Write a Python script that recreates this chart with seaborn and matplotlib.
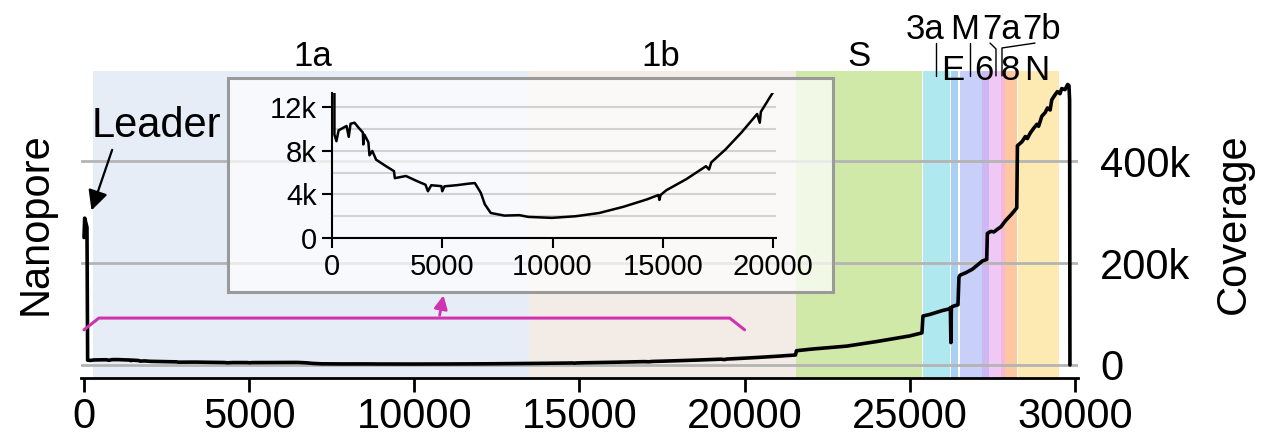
import matplotlib
matplotlib.use("Agg")
import matplotlib.pyplot as plt
import seaborn as sns
from matplotlib.patches import Rectangle

# genome positions and nanopore coverage
cov_pos = [0, 20, 90, 110, 200, 300, 660, 760, 840, 1020, 1200, 1400, 1420, 1470,
           1650, 1700, 1830, 2000, 2450, 2810, 2850, 3350, 3890, 4240, 4350, 4500,
           4960, 5000, 5100, 5680, 6210, 6480, 6750, 6930, 7200, 7820, 8500, 8900,
           9970, 11050, 12120, 13200, 14270, 14800, 14850, 14900, 15170, 16060,
           16960, 17100, 17200, 17850, 18570, 19280, 19400, 19450, 20000, 20500,
           21000, 21540, 21570, 22000, 23090, 24000, 25000, 25370, 25400, 25600,
           25800, 26000, 26200, 26230, 26245, 26260, 26300, 26460, 26490, 26520,
           26700, 26900, 27050, 27200, 27330, 27350, 27450, 27550, 27650, 27760,
           27900, 28100, 28240, 28260, 28400, 28500, 28560, 28650, 28750, 28850,
           28900, 29000, 29100, 29170, 29250, 29300, 29400, 29470, 29550, 29600,
           29700, 29780, 29820, 29840, 29850]
cov_val = [250000, 288000, 270000, 9500, 8900, 9900, 10300, 9300, 10500, 10600,
           10150, 9700, 8600, 9500, 8800, 7600, 8000, 7200, 6600, 6150, 5500, 5700,
           5200, 4900, 4300, 4850, 4770, 4300, 4750, 4860, 5000, 5050, 4150, 3100,
           2300, 2060, 2100, 1940, 1850, 2000, 2300, 2860, 3540, 3950, 3500, 3950,
           4400, 5400, 6600, 6300, 6950, 8150, 9700, 11400, 10600, 11600, 13400,
           15200, 17200, 19600, 28000, 31000, 37000, 46000, 57000, 63000, 96000,
           99000, 103000, 107000, 110000, 112000, 44000, 113000, 115000, 118000,
           172000, 176000, 181000, 188000, 196000, 204000, 207000, 258000, 262000,
           261000, 266000, 271000, 283000, 297000, 308000, 430000, 438000, 448000,
           444000, 455000, 464000, 472000, 468000, 488000, 495000, 504000, 500000,
           520000, 530000, 536000, 532000, 542000, 540000, 550000, 548000, 520000, 0]

gene_names = ["1a", "1b", "S", "3a", "E", "M", "6", "7a", "7b", "8", "N"]
gene_start = [266, 13468, 21563, 25393, 26245, 26523, 27202, 27394, 27756, 27894, 28274]
gene_end = [13483, 21555, 25384, 26220, 26472, 27191, 27387, 27759, 27887, 28259, 29533]
gene_colors = ["#e6edf6", "#f3ece6", "#d0e8a8", "#b0e8f0", "#a8d0f2", "#c8d0fa",
               "#ceb8f2", "#f0c8f5", "#f5b8d8", "#fdc8a0", "#fde9b2"]

# label placement (x in genome coordinates, row: 0 = big, 1 = top, 2 = lower)
label_x = [6940, 17450, 23450, 25461, 26309, 26672, 27248, 27793, 29004, 28035, 28853]
label_row = [0, 0, 0, 1, 2, 1, 2, 1, 1, 2, 2]

main_yticks = [0, 200000, 400000]
main_ylabels = ["0", "200k", "400k"]
main_xticks = [0, 5000, 10000, 15000, 20000, 25000, 30000]
inset_yticks = [0, 4000, 8000, 12000]
inset_ylabels = ["0", "4k", "8k", "12k"]
inset_xticks = [0, 5000, 10000, 15000, 20000]

bracket_x = [0, 450, 19550, 20000]
bracket_y = [69000, 92000, 92000, 69000]

sns.set_theme(style="white")
plt.rcParams["font.family"] = ["Liberation Sans", "DejaVu Sans"]
plt.rcParams["text.color"] = "black"
plt.rcParams["xtick.color"] = "black"
plt.rcParams["ytick.color"] = "black"
plt.rcParams["axes.labelcolor"] = "black"

W, H = 1262, 436
fig = plt.figure(figsize=(W / 100, H / 100), dpi=100)
ax = fig.add_axes([81 / W, 1 - 378 / H, 997 / W, 307 / H])

for s, e, c in zip(gene_start, gene_end, gene_colors):
    ax.axvspan(s, e, color=c, lw=0, zorder=0)

ax.set_xlim(-91, 30094)
ax.set_ylim(-25500, 576500)
ax.set_axisbelow("line")
ax.grid(axis="y", color="#b4b4b4", lw=2)
ax.grid(axis="x", visible=False)

sns.lineplot(x=cov_pos, y=cov_val, ax=ax, color="black", lw=2.6,
             estimator=None, sort=False, zorder=4)

for sp in ["left", "right", "top"]:
    ax.spines[sp].set_visible(False)
ax.spines["bottom"].set_color("black")
ax.spines["bottom"].set_linewidth(2)

ax.set_xticks(main_xticks)
ax.set_xticklabels([str(t) for t in main_xticks])
ax.tick_params(axis="x", bottom=True, length=10, width=2, color="black",
               labelsize=30, pad=4)
ax.yaxis.tick_right()
ax.set_yticks(main_yticks)
ax.set_yticklabels(main_ylabels)
ax.tick_params(axis="y", right=True, length=0, labelsize=30, pad=16)
ax.set_xlabel("")
ax.set_ylabel("")

fig.text(36 / W, 1 - 224 / H, "Nanopore", rotation=90, ha="center", va="center", fontsize=30)
fig.text(1234 / W, 1 - 224 / H, "Coverage", rotation=90, ha="center", va="center", fontsize=30)

# gene labels and leader lines
tr = ax.get_xaxis_transform()
row_y = {0: 1.016, 1: 1.104, 2: 0.971}
for name, x, r in zip(gene_names, label_x, label_row):
    ax.text(x, row_y[r], name, transform=tr, ha="center", va="baseline",
            fontsize=25, zorder=6, clip_on=False)
ax.plot([25795, 25795], [1.091, 0.984], transform=tr, color="black", lw=1, clip_on=False)
ax.plot([26824, 26824], [1.091, 0.984], transform=tr, color="black", lw=1, clip_on=False)
ax.plot([27430, 27611, 27611], [1.091, 1.072, 0.984], transform=tr, color="black", lw=1, clip_on=False)
ax.plot([28792, 27793, 27793], [1.091, 1.075, 0.984], transform=tr, color="black", lw=1, clip_on=False)

# Leader annotation
ax.text(242, 447000, "Leader", fontsize=30, ha="left", va="baseline", zorder=6)
ax.annotate("", xy=(200, 298000), xytext=(879, 427000),
            arrowprops=dict(arrowstyle="-|>", color="black", lw=1.6, mutation_scale=30),
            zorder=6)

# magenta bracket pointing to the inset
magenta = "#d033b0"
ax.plot(bracket_x, bracket_y, color=magenta, lw=2.2, zorder=5)
ax.annotate("", xy=(10900, 142000), xytext=(10750, 92000),
            arrowprops=dict(arrowstyle="-|>", color=magenta, lw=2, mutation_scale=20),
            zorder=5)

# inset frame
box = Rectangle((228 / W, 1 - 292 / H), 605 / W, 214 / H, transform=fig.transFigure,
                facecolor="white", alpha=0.72, edgecolor="none", zorder=5)
ax.add_patch(box)
frame = Rectangle((228 / W, 1 - 292 / H), 605 / W, 214 / H, transform=fig.transFigure,
                  facecolor="none", edgecolor="#9a9a9a", lw=2.2, zorder=5)
ax.add_patch(frame)

ins = fig.add_axes([332 / W, 1 - 238 / H, 444 / W, 145 / H])
ins.set_facecolor("none")
sns.lineplot(x=cov_pos, y=cov_val, ax=ins, color="black", lw=1.8,
             estimator=None, sort=False)
ins.set_xlim(0, 20136)
ins.set_ylim(0, 13330)
ins.set_yticks(inset_yticks)
ins.set_yticklabels(inset_ylabels)
ins.set_yticks([2000, 6000, 10000], minor=True)
ins.set_xticks(inset_xticks)
ins.set_xticklabels([str(t) for t in inset_xticks])
ins.grid(axis="y", which="both", color="#d2d2d2", lw=1.5)
ins.grid(axis="x", visible=False)
ins.set_axisbelow(True)
for sp in ["right", "top"]:
    ins.spines[sp].set_visible(False)
for sp in ["left", "bottom"]:
    ins.spines[sp].set_color("black")
    ins.spines[sp].set_linewidth(1.5)
ins.tick_params(axis="both", which="major", left=True, bottom=True, length=7,
                width=1.5, color="black", labelsize=21, pad=4)
ins.tick_params(axis="y", which="minor", left=False, length=0)
ins.set_xlabel("")
ins.set_ylabel("")

fig.savefig("out.png", dpi=100)
